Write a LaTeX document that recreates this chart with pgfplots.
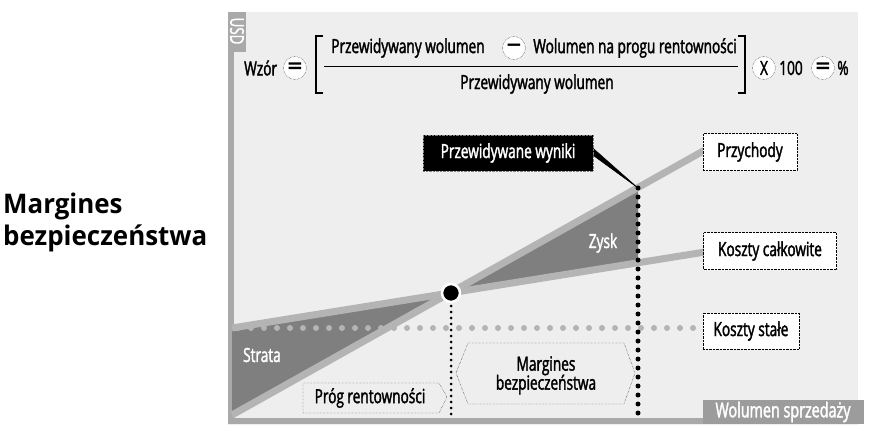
\documentclass[border=0pt]{standalone}
\usepackage{pgfplots}
\pgfplotsset{compat=1.18}
\usepackage{fontspec}
\setmainfont{Open Sans}[FakeStretch=0.70,FakeBold=1.8]
\newfontfamily\headfont{Open Sans}[FakeStretch=0.96]
\newfontfamily\symfont{DejaVu Sans}
\definecolor{panel}{HTML}{EEEEEE}
\definecolor{lineg}{HTML}{B4B4B4}
\definecolor{darkg}{HTML}{7F7F7F}
\definecolor{axisg}{HTML}{A9A9A9}
\definecolor{boxg}{HTML}{9C9C9C}
\newcommand\lab{\fontsize{19.5}{22}\selectfont}
\newcommand\opf{\symfont\bfseries\fontsize{20}{20}\selectfont}
\begin{document}
\begin{tikzpicture}
\begin{axis}[width=871pt,height=431pt,scale only axis,
  xmin=0,xmax=871,ymin=0,ymax=431,y dir=reverse,hide axis,clip=false]
% panel
\addplot[fill=panel,draw=none] coordinates {(228,12)(858,12)(858,425)(228,425)} -- cycle;
% axes bars
\addplot[axisg,line width=6pt] coordinates {(231,50)(231,421)};
\addplot[axisg,line width=6pt] coordinates {(228,421)(858,421)};
% triangles
\addplot[fill=darkg,draw=none] coordinates {(232,328)(451,293)(232,415)} -- cycle;
\addplot[fill=darkg,draw=none] coordinates {(451,293)(638,189)(638,263)} -- cycle;
% fixed costs
\addplot[lineg,line width=6pt,line cap=round,dash pattern=on 0pt off 13pt] coordinates {(238,328)(700,328)};
% revenue and total cost
\addplot[lineg,line width=7pt] coordinates {(232,328)(705,252)};
\addplot[lineg,line width=7pt] coordinates {(232,415)(705,150)};
% vertical dotted lines
\addplot[black,line width=5pt,line cap=round,dash pattern=on 0pt off 9pt] coordinates {(638,188)(638,418)};
\addplot[black,line width=3pt,line cap=round,dash pattern=on 0pt off 6pt] coordinates {(451,306)(451,418)};
% break-even point
\addplot[only marks,mark=*,mark size=9pt,mark options={fill=black,draw=white,line width=2.5pt}] coordinates {(451,293)};
% callout wedge
\addplot[fill=black,draw=black,line width=0.5pt] coordinates {(586,142)(594,156)(638,188)} -- cycle;

% USD box
\fill[axisg] (axis cs:228,12) rectangle (axis cs:246,52);
\node[rotate=-90,text=white,inner sep=0pt,font=\fontsize{19}{20}\selectfont] at (axis cs:237,31) {USD};
% Wolumen box
\fill[boxg] (axis cs:703,400) rectangle (axis cs:864,424);
\node[text=white,font=\fontsize{20.5}{22}\selectfont] at (axis cs:783,412) {Wolumen sprzedaży};

% heading
\node[anchor=base west,inner sep=0pt,font=\headfont\bfseries\fontsize{27}{30}\selectfont] at (axis cs:3,213) {Margines};
\node[anchor=base west,inner sep=0pt,font=\headfont\bfseries\fontsize{27}{30}\selectfont] at (axis cs:3,245) {bezpieczeństwa};

% formula
\node[font=\lab,anchor=west,inner sep=0pt] at (axis cs:244,68) {Wzór};
\node[circle,draw,densely dotted,fill=white,minimum size=23pt,inner sep=0pt,font=\opf] at (axis cs:295,68) {=};
\draw[line width=2.2pt] (axis cs:323,36) -- (axis cs:316,36) -- (axis cs:316,93) -- (axis cs:323,93);
\draw[line width=2.2pt] (axis cs:738,36) -- (axis cs:745,36) -- (axis cs:745,93) -- (axis cs:738,93);
\draw[line width=0.9pt] (axis cs:324,66) -- (axis cs:738,66);
\node[font=\lab,inner sep=0pt] at (axis cs:408,48) {Przewidywany wolumen};
\node[circle,draw,densely dotted,fill=white,minimum size=23pt,inner sep=0pt,font=\opf] at (axis cs:514,48) {−};
\node[font=\lab,inner sep=0pt] at (axis cs:635,48) {Wolumen na progu rentowności};
\node[font=\lab,inner sep=0pt] at (axis cs:537,84) {Przewidywany wolumen};
\node[circle,draw,densely dotted,fill=white,minimum size=23pt,inner sep=0pt,font=\lab] at (axis cs:764,68) {X};
\node[font=\lab,inner sep=0pt] at (axis cs:791,68) {100};
\node[circle,draw,densely dotted,fill=white,minimum size=23pt,inner sep=0pt,font=\opf] at (axis cs:823,68) {=};
\node[font=\lab,inner sep=0pt] at (axis cs:843,68) {\%};

% label boxes
\node[draw,densely dotted,fill=white,minimum width=94pt,minimum height=37pt,font=\lab] at (axis cs:750,152) {Przychody};
\node[draw,densely dotted,fill=white,minimum width=133pt,minimum height=37pt,font=\lab] at (axis cs:770,251) {Koszty całkowite};
\node[draw,densely dotted,fill=white,minimum width=96pt,minimum height=36pt,font=\lab] at (axis cs:751,331) {Koszty stałe};
\node[draw=gray,densely dotted,fill=black,text=white,minimum width=170pt,minimum height=36pt,font=\lab] at (axis cs:508,153) {Przewidywane wyniki};

% inner labels
\node[text=white,font=\lab] at (axis cs:262,355) {Strata};
\node[text=white,font=\lab] at (axis cs:603,243) {Zysk};

% Prog rentownosci
\draw[densely dotted,fill=panel] (axis cs:303,383) -- (axis cs:439,383) -- (axis cs:447,397) -- (axis cs:439,413) -- (axis cs:303,413) -- cycle;
\node[font=\lab] at (axis cs:370,398) {Próg rentowności};
% Margines hexagon
\draw[densely dotted,fill=panel] (axis cs:468,343) -- (axis cs:624,343) -- (axis cs:635,373) -- (axis cs:624,404) -- (axis cs:468,404) -- (axis cs:456,373) -- cycle;
\node[font=\lab,align=center,text depth=0pt] at (axis cs:546,373) {Margines\\[-3pt]bezpieczeństwa};
\end{axis}
\pgfresetboundingbox
\path (0,0) rectangle (871pt,431pt);
\end{tikzpicture}
\end{document}
